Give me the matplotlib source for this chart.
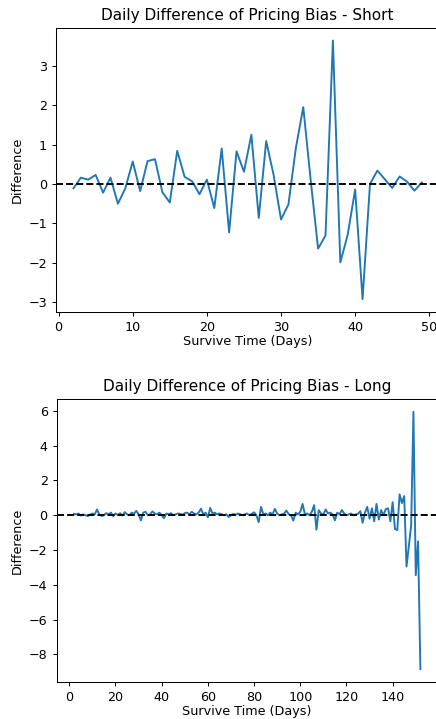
import matplotlib
matplotlib.use("Agg")
import matplotlib.pyplot as plt

# ---- data ----
short_days = list(range(2, 50))
short_diff = [-0.11, 0.16, 0.11, 0.23, -0.22, 0.16, -0.50, -0.11, 0.57, -0.18,
              0.58, 0.63, -0.21, -0.47, 0.84, 0.18, 0.07, -0.26, 0.11, -0.61,
              0.90, -1.23, 0.83, 0.31, 1.25, -0.86, 1.09, 0.23, -0.90, -0.52,
              0.91, 1.95, 0.10, -1.64, -1.31, 3.64, -1.99, -1.28, -0.14, -2.92,
              0.00, 0.34, 0.12, -0.10, 0.19, 0.06, -0.17, 0.04]

long_days = list(range(2, 153))
long_diff = [0.08, 0.05, 0.10, -0.02, 0.05, 0.00, -0.05, 0.03, 0.10, 0.05,
             0.33, 0.05, -0.05, 0.00, 0.12, 0.05, 0.15, -0.05, 0.10, 0.02,
             0.12, -0.02, 0.18, 0.05, 0.00, 0.15, 0.08, 0.25, 0.05, -0.30,
             0.15, 0.20, 0.00, 0.05, 0.22, 0.10, 0.05, 0.15, 0.00, -0.17,
             0.10, 0.05, 0.12, 0.00, 0.05, 0.10, 0.08, 0.02, 0.12, 0.15,
             0.05, 0.20, 0.10, 0.05, 0.15, 0.38, 0.05, 0.15, -0.12, 0.42,
             0.10, 0.15, 0.05, 0.10, 0.05, 0.00, 0.05, -0.10, 0.00, 0.08,
             0.02, 0.10, 0.05, 0.00, 0.05, 0.10, 0.00, 0.08, 0.17, 0.00,
             -0.40, 0.48, 0.05, 0.10, 0.00, 0.15, 0.05, 0.37, 0.10, 0.00,
             0.05, 0.10, 0.27, 0.05, 0.00, -0.31, 0.15, 0.05, 0.20, 0.65,
             0.05, 0.10, 0.00, 0.20, 0.58, -0.83, 0.29, 0.10, 0.05, 0.33,
             0.10, 0.15, 0.05, -0.29, 0.15, 0.05, 0.30, 0.10, 0.00, 0.05,
             0.10, 0.00, 0.05, 0.08, 0.23, -0.44, 0.15, 0.48,
             -0.20, 0.40, -0.35, 0.65, -0.25, 0.30, 0.00, 0.35, 0.40, -0.35,
             0.75, -0.80, -0.85, 1.20, 0.70, 1.10, -2.95, -1.80, -0.60, 5.95,
             -3.45, -1.50, -8.85]

titles = ["Daily Difference of Pricing Bias - Short",
          "Daily Difference of Pricing Bias - Long"]
xlabel = "Survive Time (Days)"
ylabel = "Difference"

W, H = 436, 719
DPI = 91.5
fig = plt.figure(figsize=(W / DPI, H / DPI), dpi=DPI)

def frac(l, r, t, b):
    return [l / W, 1 - b / H, (r - l) / W, (b - t) / H]

ax1 = fig.add_axes(frac(56.0, 439.3, 27.6, 312.0))
ax2 = fig.add_axes(frac(56.6, 437.7, 398.9, 682.0))

for ax, x, y, t in [(ax1, short_days, short_diff, titles[0]),
                    (ax2, long_days, long_diff, titles[1])]:
    ax.plot(x, y, color="#1f77b4", linewidth=1.5)
    ax.axhline(0, color="black", linestyle="--", linewidth=1.5)
    ax.set_title(t, fontsize=12)
    ax.set_xlabel(xlabel, fontsize=10, labelpad=1)
    ax.set_ylabel(ylabel, fontsize=10)
    ax.tick_params(labelsize=10)

fig.savefig("out.png", dpi=DPI)
